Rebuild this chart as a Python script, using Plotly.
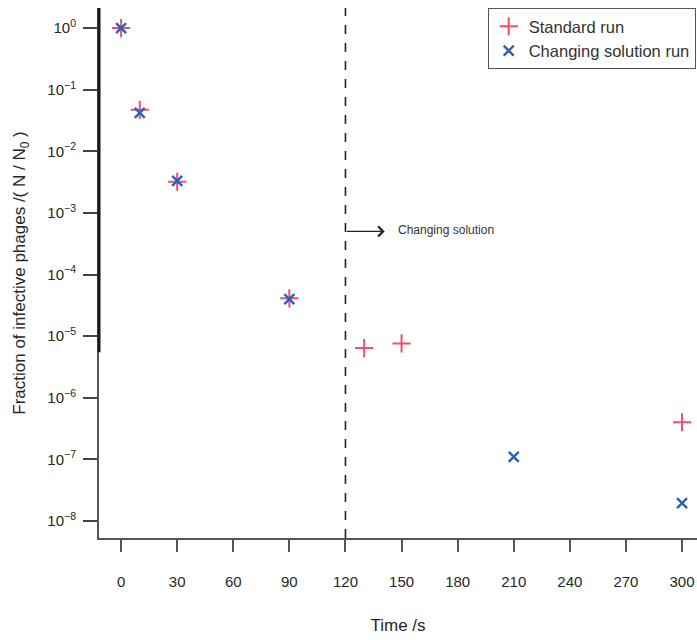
import plotly.graph_objects as go

# Measured inactivation data (time in s, fraction N/N0)
std_time = [0, 10, 30, 90, 130, 150, 300]
std_frac = [1.0, 0.047, 3.2e-3, 4.1e-5, 6.4e-6, 7.6e-6, 4.0e-7]

chg_time = [0, 10, 30, 90, 210, 300]
chg_frac = [1.0, 0.042, 3.3e-3, 4.0e-5, 1.1e-7, 1.95e-8]

x_ticks = [0, 30, 60, 90, 120, 150, 180, 210, 240, 270, 300]
y_exps = [0, -1, -2, -3, -4, -5, -6, -7, -8]

switch_time = 120
arrow_level_exp = -3.3

RED = "#f0506a"
BLUE = "#2b5fc0"
FONT = "Liberation Sans, Arial, sans-serif"
TXT = "#262626"

fig = go.Figure()
fig.add_trace(go.Scatter(
    x=std_time, y=std_frac, mode="markers", name="Standard run",
    marker=dict(symbol="cross-thin", size=13, line=dict(color=RED, width=2)),
))
fig.add_trace(go.Scatter(
    x=chg_time, y=chg_frac, mode="markers", name="Changing solution run",
    marker=dict(symbol="x-thin", size=10, line=dict(color=BLUE, width=2.4)),
))

def sup(e):
    return "10<sup>%s</sup>" % (str(e).replace("-", "\u2212"))

fig.update_layout(
    width=697, height=640,
    margin=dict(l=99, r=0, t=8, b=102, autoexpand=False),
    paper_bgcolor="white", plot_bgcolor="white",
    font=dict(family=FONT, color=TXT, size=14),
    showlegend=True,
    legend=dict(
        x=0.650, y=1.0, xanchor="left", yanchor="top",
        bordercolor="#555555", borderwidth=1, bgcolor="white",
        font=dict(size=16.5, color="#333333"),
        itemwidth=30, tracegroupgap=0,
    ),
    xaxis=dict(
        range=[-11.8, 308], tickvals=x_ticks, ticktext=[str(v) for v in x_ticks],
        showgrid=False, zeroline=False, showline=True, linecolor="#555555", linewidth=2,
        ticks="outside", ticklen=12, tickwidth=2, tickcolor="#555555",
        ticklabelstandoff=17,
        tickfont=dict(size=15, color=TXT),
        title=dict(text="Time /s", font=dict(size=17, color=TXT), standoff=30),
    ),
    yaxis=dict(
        type="log", range=[-8.276, 0.325],
        tickvals=[10.0 ** e for e in y_exps], ticktext=[sup(e) for e in y_exps],
        showgrid=False, zeroline=False, showline=True, linecolor="#555555", linewidth=2,
        ticks="outside", ticklen=14, tickwidth=2, tickcolor="#444444",
        ticklabelstandoff=4,
        tickfont=dict(size=15, color=TXT),
        title=dict(text="Fraction of infective phages /( N / N<sub>0</sub> )",
                   font=dict(size=17, color=TXT), standoff=17),
    ),
)

# Darker upper portion of the y axis line
fig.add_shape(type="line", xref="paper", yref="y", x0=0, x1=0,
              y0=10 ** -5.26, y1=10 ** 0.325, line=dict(color="#1a1a1a", width=3))

# Moment the solution is changed
fig.add_shape(type="line", xref="x", yref="paper", x0=switch_time, x1=switch_time,
              y0=0, y1=1, line=dict(color="#222222", width=1.6, dash="dash"))

fig.add_annotation(
    x=switch_time + 21, y=arrow_level_exp, xref="x", yref="y",
    ax=switch_time, ay=arrow_level_exp, axref="x", ayref="y",
    showarrow=True, arrowhead=4, arrowsize=1.4,
    arrowwidth=1.4, arrowcolor="#222222", text="",
)
fig.add_annotation(
    x=switch_time + 27, y=arrow_level_exp + 0.03, xref="x", yref="y", xanchor="left",
    text="Changing solution", showarrow=False,
    font=dict(size=12, color="#333333"),
)

fig.write_html("out.html")
